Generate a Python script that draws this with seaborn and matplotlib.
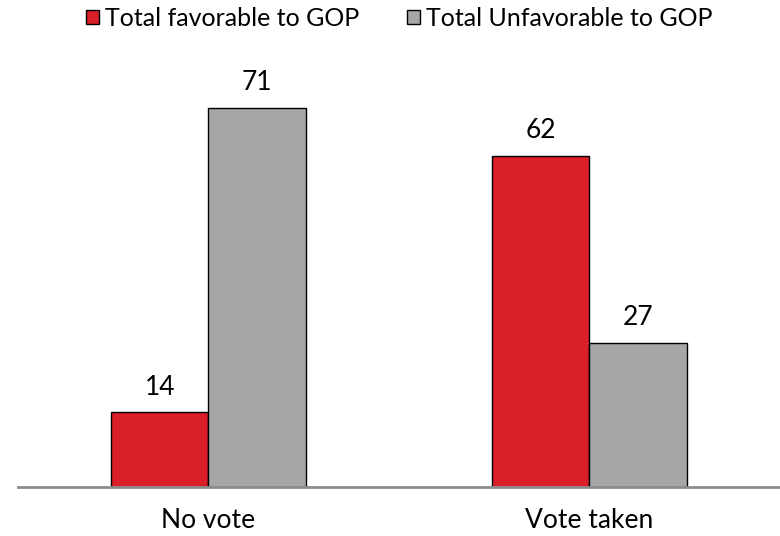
import pandas as pd
import matplotlib.pyplot as plt
import seaborn as sns

# data
categories = ["No vote", "Vote taken"]
series = ["Total favorable to GOP", "Total Unfavorable to GOP"]
favorable = [14, 62]
unfavorable = [71, 27]

df = pd.DataFrame({
    "category": categories * 2,
    "series": [series[0]] * 2 + [series[1]] * 2,
    "value": favorable + unfavorable,
})

sns.set_style("white")
plt.rcParams['font.family'] = ['Lato', 'DejaVu Sans']
plt.rcParams['text.color'] = 'black'
plt.rcParams['xtick.color'] = 'black'

fig = plt.figure(figsize=(7.8, 5.36), dpi=100)
ax = fig.add_axes([0.023, 0.0914, 0.977, 0.817])

sns.barplot(data=df, x="category", y="value", hue="series",
            palette=["#DA1F28", "#A6A6A6"], saturation=1, width=0.51,
            edgecolor="black", linewidth=1, ax=ax)

for c in ax.containers:
    ax.bar_label(c, padding=9, fontsize=19, color="black")

ax.set_xlim(-0.5, 1.5)
ax.set_ylim(0, 82)
ax.set_xlabel("")
ax.set_ylabel("")
ax.set_yticks([])
ax.tick_params(axis='x', labelsize=19, length=0, pad=15, labelcolor="black")
for s in ["top", "left", "right"]:
    ax.spines[s].set_visible(False)
ax.spines["bottom"].set_color("#8C8C8C")
ax.spines["bottom"].set_linewidth(2)

ax.legend(loc="center", bbox_to_anchor=(0.5, 1.07), ncol=2, frameon=False,
          fontsize=18, handlelength=0.52, handleheight=0.52, handletextpad=0.25,
          columnspacing=1.9, borderaxespad=0)

fig.savefig("out.png", dpi=100)
